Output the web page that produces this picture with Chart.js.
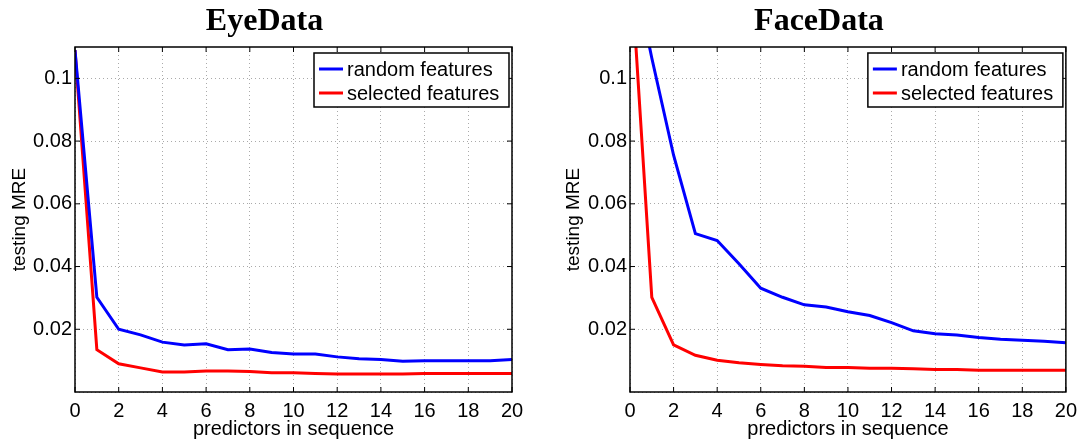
<!DOCTYPE html>
<html>
<head>
<meta charset="utf-8">
<script src="https://cdn.jsdelivr.net/npm/chart.js@4.4.1/dist/chart.umd.min.js"></script>
<style>
  body { margin: 0; background: #fff; }
  #wrap { position: relative; width: 1084px; height: 441px; }
  canvas { position: absolute; top: 0; }
</style>
</head>
<body>
<div id="wrap">
  <canvas id="eyeChart" width="540" height="441" style="left:0"></canvas>
  <canvas id="faceChart" width="534" height="441" style="left:550px"></canvas>
</div>
<script>
// --- data ---
const steps = [0, 1, 2, 3, 4, 5, 6, 7, 8, 9, 10, 11, 12, 13, 14, 15, 16, 17, 18, 19, 20];
const eyeRandom   = [0.109, 0.0302, 0.0200, 0.0182, 0.0159, 0.0150, 0.0154, 0.0135, 0.0137, 0.0126, 0.0121, 0.0121, 0.0112, 0.0106, 0.0104, 0.0098, 0.0100, 0.0100, 0.0100, 0.0100, 0.0104];
const eyeSelected = [0.109, 0.0135, 0.0090, 0.0077, 0.0064, 0.0064, 0.0067, 0.0067, 0.0065, 0.0061, 0.0061, 0.0059, 0.0057, 0.0057, 0.0057, 0.0057, 0.0059, 0.0059, 0.0059, 0.0059, 0.0059];
const faceRandom   = [0.14, 0.1065, 0.0755, 0.0505, 0.0483, 0.0409, 0.0331, 0.0302, 0.0278, 0.0271, 0.0256, 0.0244, 0.0221, 0.0195, 0.0186, 0.0182, 0.0174, 0.0168, 0.0165, 0.0162, 0.0157];
const faceSelected = [0.14, 0.0302, 0.0150, 0.0117, 0.0101, 0.0093, 0.0088, 0.0084, 0.0082, 0.0078, 0.0078, 0.0076, 0.0076, 0.0074, 0.0072, 0.0072, 0.0069, 0.0069, 0.0069, 0.0069, 0.0069];
const seriesLabels = ['random features', 'selected features'];
const xTickStep = 2;
const yTicks = [0.02, 0.04, 0.06, 0.08, 0.1];

Chart.defaults.font.family = '"Liberation Sans", Arial, sans-serif';
Chart.defaults.font.size = 20;
Chart.defaults.color = '#000';

// matlab-ish box with inward ticks
const framePlugin = {
    id: 'frame',
    afterDatasetsDraw(chart) {
        const {ctx, chartArea: a, scales} = chart;
        ctx.save();
        ctx.strokeStyle = '#000';
        ctx.lineWidth = 1.5;
        ctx.strokeRect(a.left, a.top, a.right - a.left, a.bottom - a.top);
        ctx.lineWidth = 1;
        ctx.beginPath();
        for (let v = 0; v <= 20; v += xTickStep) {
            const x = scales.x.getPixelForValue(v);
            ctx.moveTo(x, a.bottom); ctx.lineTo(x, a.bottom - 5);
            ctx.moveTo(x, a.top); ctx.lineTo(x, a.top + 5);
        }
        yTicks.forEach(v => {
            const y = scales.y.getPixelForValue(v);
            ctx.moveTo(a.left, y); ctx.lineTo(a.left + 5, y);
            ctx.moveTo(a.right, y); ctx.lineTo(a.right - 5, y);
        });
        ctx.stroke();
        ctx.restore();
    }
};

// legend in the top right corner, boxed
const boxLegend = {
    id: 'boxLegend',
    afterDraw(chart) {
        const {ctx, chartArea: a} = chart;
        const w = 195, h = 54;
        const left = a.right - 3 - w, top = a.top + 6;
        ctx.save();
        ctx.fillStyle = '#fff';
        ctx.fillRect(left, top, w, h);
        ctx.strokeStyle = '#000';
        ctx.lineWidth = 1.5;
        ctx.strokeRect(left, top, w, h);
        chart.data.datasets.forEach((ds, i) => {
            const y = top + 16 + i * 24;
            ctx.strokeStyle = ds.borderColor;
            ctx.lineWidth = 3;
            ctx.beginPath();
            ctx.moveTo(left + 5, y); ctx.lineTo(left + 29, y);
            ctx.stroke();
            ctx.fillStyle = '#000';
            ctx.font = '20px "Liberation Sans", Arial, sans-serif';
            ctx.textBaseline = 'middle';
            ctx.fillText(ds.label, left + 33, y + 1);
        });
        ctx.restore();
    }
};

const serifTitle = {
    id: 'serifTitle',
    afterDraw(chart, args, opts) {
        const {ctx, chartArea: a} = chart;
        ctx.save();
        ctx.font = 'bold 32px "Liberation Serif", "DejaVu Serif", serif';
        ctx.fillStyle = '#000';
        ctx.textAlign = 'center';
        ctx.textBaseline = 'alphabetic';
        ctx.fillText(opts.text, (a.left + a.right) / 2 - 29, 30);
        ctx.restore();
    }
};

function makeChart(id, title, randomVals, selectedVals, yAxisWidth, padRight, yTitlePad) {
    return new Chart(document.getElementById(id), {
        type: 'line',
        data: {
            datasets: [
                { label: seriesLabels[0], data: steps.map((s, i) => ({x: s, y: randomVals[i]})), borderColor: '#0000ff', borderWidth: 3, pointRadius: 0, tension: 0 },
                { label: seriesLabels[1], data: steps.map((s, i) => ({x: s, y: selectedVals[i]})), borderColor: '#ff0000', borderWidth: 3, pointRadius: 0, tension: 0 }
            ]
        },
        options: {
            responsive: false, animation: false, devicePixelRatio: 1,
            layout: { padding: { top: 47, right: padRight, bottom: 0, left: 0 } },
            plugins: { legend: { display: false }, tooltip: { enabled: false }, serifTitle: { text: title } },
            scales: {
                x: {
                    type: 'linear', min: 0, max: 20,
                    ticks: { stepSize: xTickStep, padding: 7, maxRotation: 0 },
                    grid: { color: '#aaaaaa', lineWidth: 1, drawTicks: false },
                    border: { display: false, dash: [1, 3] },
                    title: { display: true, text: 'predictors in sequence', font: { size: 20 }, padding: { top: 0, bottom: 0 } },
                    afterFit: s => { s.height = 49; }
                },
                y: {
                    type: 'linear', min: 0, max: 0.11,
                    ticks: { stepSize: 0.02, includeBounds: false, padding: 3, callback: v => v === 0 ? '' : String(+v.toFixed(2)) },
                    grid: { color: '#aaaaaa', lineWidth: 1, drawTicks: false },
                    border: { display: false, dash: [1, 3] },
                    title: { display: true, text: 'testing MRE', font: { size: 19 }, padding: { top: yTitlePad, bottom: 0 } },
                    afterFit: s => { s.width = yAxisWidth; }
                }
            }
        },
        plugins: [framePlugin, boxLegend, serifTitle]
    });
}

makeChart('eyeChart', 'EyeData', eyeRandom, eyeSelected, 75, 28, 8);
makeChart('faceChart', 'FaceData', faceRandom, faceSelected, 80, 18, 12);
</script>
</body>
</html>
